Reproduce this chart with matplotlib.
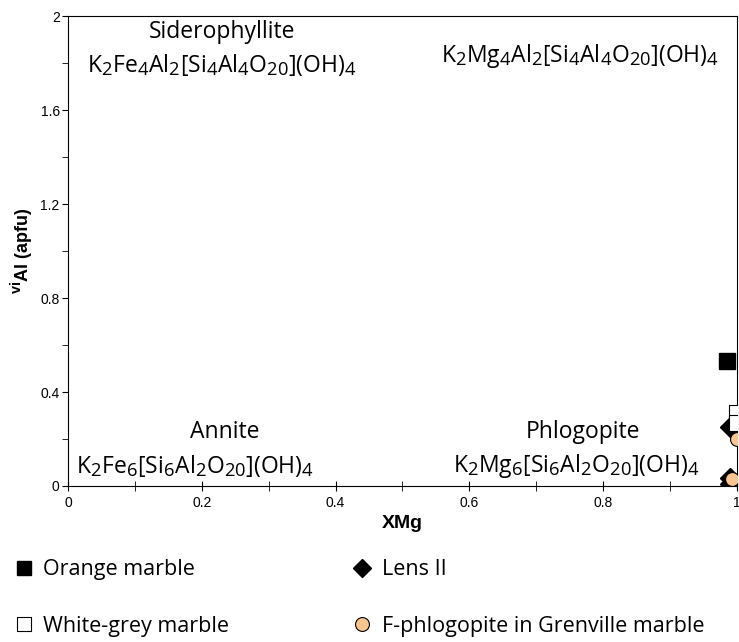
import matplotlib
matplotlib.use('Agg')
import matplotlib.pyplot as plt
import matplotlib._mathtext as mathtext_internal
from matplotlib.lines import Line2D

plt.rcParams['font.family'] = ['Liberation Sans', 'DejaVu Sans']
plt.rcParams['mathtext.fontset'] = 'custom'
plt.rcParams['mathtext.rm'] = 'Open Sans'
plt.rcParams['mathtext.bf'] = 'Liberation Sans:bold'
# subscripts in the reference are a bit bigger than mathtext's default
mathtext_internal.SHRINK_FACTOR = 0.8

# data
orange_x = [0.985]
orange_y = [0.53]
white_x = [1.0, 1.0]
white_y = [0.31, 0.27]
lens_x = [0.99, 0.99, 0.99]
lens_y = [0.25, 0.035, 0.01]
grenville_x = [1.0, 0.993]
grenville_y = [0.20, 0.03]

x_ticks = [0, 0.2, 0.4, 0.6, 0.8, 1]
x_labels = ['0', '0.2', '0.4', '0.6', '0.8', '1']
y_ticks = [0, 0.4, 0.8, 1.2, 1.6, 2]
y_labels = ['0', '0.4', '0.8', '1.2', '1.6', '2']

fig = plt.figure(figsize=(7.39, 6.42), dpi=100)
ax = fig.add_axes([0.092, 0.243, 0.905, 0.732])

ax.plot(orange_x, orange_y, 's', color='black', ms=11, mec='black', zorder=3)
ax.plot(lens_x, lens_y, 'D', color='black', ms=10, mec='black', zorder=3)
ax.plot(white_x, white_y, 's', color='white', ms=11, mec='black', mew=0.8, zorder=4)
ax.plot(grenville_x, grenville_y, 'o', color='#fcc48e', ms=10, mec='black', mew=0.8, zorder=5)

ax.set_xlim(0, 1)
ax.set_ylim(0, 2)
ax.set_xticks(x_ticks)
ax.set_xticklabels(x_labels, fontsize=10)
ax.set_yticks(y_ticks)
ax.set_yticklabels(y_labels, fontsize=10)
ax.set_xticks([0.1, 0.3, 0.5, 0.7, 0.9], minor=True)
ax.set_yticks([0.2, 0.6, 1.0, 1.4, 1.8], minor=True)
ax.tick_params(axis='x', which='both', direction='inout', length=7, pad=4)
ax.tick_params(axis='y', which='both', direction='out', length=4, pad=2)

ax.set_xlabel('XMg', fontsize=14, fontweight='bold', labelpad=3)
ax.set_ylabel(r'$^{\mathbf{vi}}$Al (apfu)', fontsize=13, fontweight='bold', labelpad=4)

lab = dict(fontsize=16.5, family='Open Sans', ha='center', va='center')
ax.text(0.23, 1.93, 'Siderophyllite', **lab)
ax.text(0.23, 1.79, r'K$_2$Fe$_4$Al$_2$[Si$_4$Al$_4$O$_{20}$](OH)$_4$', **lab)
ax.text(0.765, 1.83, r'K$_2$Mg$_4$Al$_2$[Si$_4$Al$_4$O$_{20}$](OH)$_4$', **lab)
ax.text(0.235, 0.23, 'Annite', **lab)
ax.text(0.19, 0.085, r'K$_2$Fe$_6$[Si$_6$Al$_2$O$_{20}$](OH)$_4$', **lab)
ax.text(0.77, 0.23, 'Phlogopite', **lab)
ax.text(0.76, 0.085, r'K$_2$Mg$_6$[Si$_6$Al$_2$O$_{20}$](OH)$_4$', **lab)

handles = [
    Line2D([], [], ls='none', marker='s', color='black', ms=10),
    Line2D([], [], ls='none', marker='s', color='white', mec='black', mew=0.8, ms=10),
    Line2D([], [], ls='none', marker='D', color='black', ms=9),
    Line2D([], [], ls='none', marker='o', color='#fcc48e', mec='black', mew=0.8, ms=10),
]
names = ['Orange marble', 'White-grey marble', 'Lens II', 'F-phlogopite in Grenville marble']
fig.legend(handles, names, ncol=2, loc='lower left', bbox_to_anchor=(-0.006, -0.022),
           frameon=False, prop={'family': 'Open Sans', 'size': 15.5},
           handlelength=0.8, handletextpad=0.5, labelspacing=1.65, columnspacing=5.8)

fig.savefig('out.png', dpi=100)
